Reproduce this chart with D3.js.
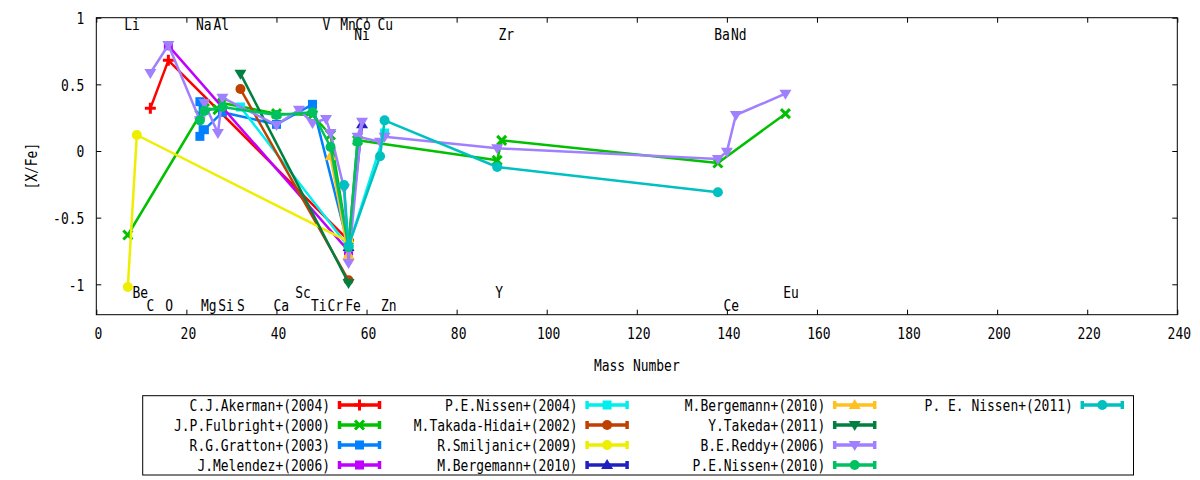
<!DOCTYPE html>
<html><head><meta charset="utf-8">
<script src="https://cdn.jsdelivr.net/npm/d3@7"></script>
<style>
body{margin:0;background:#fff;}
svg text{font-family:"DejaVu Sans Mono",monospace;font-size:16px;fill:#000;}
</style>
</head><body>
<svg id="chart" width="1200" height="480"></svg>
<script>
// ---------- data ----------
const xTicks = [0,20,40,60,80,100,120,140,160,180,200,220,240];
const yTicks = [-1,-0.5,0,0.5,1];
const xTitle = "Mass Number";
const yTitle = "[X/Fe]";

const seriesNames = ["C.J.Akerman+(2004)","J.P.Fulbright+(2000)","R.G.Gratton+(2003)","J.Melendez+(2006)",
  "P.E.Nissen+(2004)","M.Takada-Hidai+(2002)","R.Smiljanic+(2009)","M.Bergemann+(2010)",
  "M.Bergemann+(2010)","Y.Takeda+(2011)","B.E.Reddy+(2006)","P.E.Nissen+(2010)","P. E. Nissen+(2011)"];
const seriesColors = ["#ff0000","#00c000","#0080ff","#c000ff","#00eeee","#c04000","#eeee00","#2020c0",
  "#ffc020","#008040","#a080ff","#00c060","#00c0c0"];
const seriesMarkers = ["plus","cross","square","square","square","circle","circle","triUp",
  "triUp","triDown","triDown","circle","circle"];

// [mass number, [X/Fe]]
const akerman    = [[12,0.32],[16,0.68],[56,-0.67]];
const fulbright  = [[7,-0.63],[23,0.27],[24,0.32],[27,0.31],[28,0.36],[40,0.28],[48,0.27],[52,0.12],[56,-0.72],[58,0.08],[89,-0.07],[90,0.08],[138,-0.09],[153,0.28]];
const gratton    = [[23,0.37],[23,0.11],[24,0.16],[28,0.29],[40,0.20],[48,0.35],[56,-0.72]];
const melendez   = [[16,0.79],[56,-0.75]];
const nissen2004 = [[32,0.33],[56,-0.72],[64,0.135]];
const takada     = [[32,0.465],[56,-0.97]];
const smiljanic  = [[7,-1.02],[9,0.12],[56,-0.68]];
const bergemannCo= [[56,-0.72],[59,0.2]];
const bergemannCr= [[52,-0.04],[56,-0.78]];
const takeda     = [[32,0.58],[56,-0.99]];
const reddy      = [[12,0.585],[16,0.795],[23,0.23],[24,0.36],[27,0.135],[28,0.40],[40,0.195],[45,0.31],[48,0.21],[51,0.24],[52,0.135],[55,-0.28],[56,-0.84],[59,0.22],[58,0.107],[63,0.07],[64,0.107],[89,0.02],[138,-0.06],[140,-0.005],[142,0.27],[153,0.43]];
const nissen2010 = [[23,0.23],[24,0.30],[28,0.33],[40,0.27],[48,0.29],[52,0.03],[56,-0.72],[58,0.07]];
const nissen2011 = [[55,-0.255],[56,-0.71],[63,-0.04],[64,0.23],[89,-0.12],[138,-0.31]];
const seriesData = [akerman,fulbright,gratton,melendez,nissen2004,takada,smiljanic,bergemannCo,bergemannCr,takeda,reddy,nissen2010,nissen2011];

// element labels: [text, x (mass units)]; rows share one y value each
const labelsTop1 = [["Li",6.37],["Na",22.29],["Al",26.20],["V",50.40],["Mn",54.33],["Co",57.66],["Cu",62.61]];
const labelsTop2 = [["Ni",57.44],["Zr",89.48],["Ba",137.37],["Nd",141.07]];
const labelsBot1 = [["Be",8.21],["Sc",44.34],["Y",88.74],["Eu",152.69]];
const labelsBot2 = [["C",11.32],["O",15.48],["Mg",23.40],["Si",27.24],["S",31.39],["Ca",39.52],["Ti",47.82],["Cr",51.51],["Fe",55.44],["Zn",63.36],["Ce",139.43]];
const labelRowY = [0.949,0.876,-1.065,-1.159];

// ---------- layout ----------
const svg = d3.select("#chart");
const L = 96.3, R = 1177.3, T = 17.7, B = 314.7;
const x = d3.scaleLinear().domain([0,240]).range([L,R]);
const y = d3.scaleLinear().domain([-1.228,1]).range([B,T]);
const CW = 7.8; // condensed character width

function fitText(sel){
  sel.each(function(){
    const t = d3.select(this); const s = t.text();
    if(s.length) t.attr("textLength", s.length*CW).attr("lengthAdjust","spacingAndGlyphs");
  });
}

// axes
function styleAxis(g){
  g.attr("font-family",null).attr("font-size",null);
  g.select(".domain").remove();
  g.selectAll(".tick line").attr("stroke","#000").attr("stroke-width",1);
}
const gx = svg.append("g").attr("transform",`translate(0,${B})`)
  .call(d3.axisBottom(x).tickValues(xTicks).tickSize(-5).tickPadding(13).tickFormat(d3.format("d")));
styleAxis(gx); gx.selectAll("text").attr("dx",1.5).call(fitText);
const gxt = svg.append("g").attr("transform",`translate(0,${T})`)
  .call(d3.axisTop(x).tickValues(xTicks).tickSize(-5).tickFormat(""));
styleAxis(gxt);
const gy = svg.append("g").attr("transform",`translate(${L},0)`)
  .call(d3.axisLeft(y).tickValues(yTicks).tickSize(-5).tickPadding(12).tickFormat(d=>String(d)));
styleAxis(gy); gy.selectAll("text").attr("dy","0.36em").call(fitText);
const gyr = svg.append("g").attr("transform",`translate(${R},0)`)
  .call(d3.axisRight(y).tickValues(yTicks).tickSize(-5).tickFormat(""));
styleAxis(gyr);

// titles
svg.append("text").attr("x",(L+R)/2).attr("y",365).attr("text-anchor","middle")
  .attr("dominant-baseline","central").text(xTitle).call(fitText);
svg.append("text").attr("transform",`translate(31,${(T+B)/2}) rotate(-90)`).attr("text-anchor","middle")
  .attr("dominant-baseline","central").text(yTitle).call(fitText);

// element labels
const gl = svg.append("g");
[labelsTop1,labelsTop2,labelsBot1,labelsBot2].forEach((arr,ri)=>{
  gl.selectAll(null).data(arr).enter().append("text")
    .attr("x",d=>x(d[1])-0.8).attr("y",y(labelRowY[ri]))
    .attr("dominant-baseline","central").attr("text-anchor","start")
    .text(d=>d[0]).call(fitText);
});

// markers
function drawMarker(g, type, color, cx, cy){
  if(type==="plus"){
    g.append("path").attr("d",`M${cx-5.5},${cy}H${cx+5.5}M${cx},${cy-5.5}V${cy+5.5}`)
      .attr("stroke",color).attr("stroke-width",3).attr("fill","none");
  } else if(type==="cross"){
    g.append("path").attr("d",`M${cx-4.5},${cy-4.5}L${cx+4.5},${cy+4.5}M${cx-4.5},${cy+4.5}L${cx+4.5},${cy-4.5}`)
      .attr("stroke",color).attr("stroke-width",3).attr("fill","none");
  } else if(type==="square"){
    g.append("rect").attr("x",cx-4.5).attr("y",cy-4.5).attr("width",9).attr("height",9).attr("fill",color);
  } else if(type==="circle"){
    g.append("circle").attr("cx",cx).attr("cy",cy).attr("r",5).attr("fill",color);
  } else if(type==="triUp"){
    g.append("path").attr("d",`M${cx},${cy-6}L${cx+6},${cy+4}L${cx-6},${cy+4}Z`).attr("fill",color);
  } else if(type==="triDown"){
    g.append("path").attr("d",`M${cx-6},${cy-4}L${cx+6},${cy-4}L${cx},${cy+6}Z`).attr("fill",color);
  }
}

// series
const line = d3.line().x(d=>x(d[0])).y(d=>y(d[1]));
const gp = svg.append("g");
seriesData.forEach((data,i)=>{
  const g = gp.append("g");
  g.append("path").datum(data).attr("d",line).attr("fill","none")
    .attr("stroke",seriesColors[i]).attr("stroke-width",2.5).attr("stroke-linejoin","round");
  data.forEach(d=>drawMarker(g, seriesMarkers[i], seriesColors[i], x(d[0]), y(d[1])));
});

// frame
svg.append("rect").attr("x",L).attr("y",T).attr("width",R-L).attr("height",B-T)
  .attr("fill","none").attr("stroke","#000").attr("stroke-width",1);

// legend
svg.append("rect").attr("x",142.7).attr("y",395.7).attr("width",1133.5-142.7).attr("height",475-395.7)
  .attr("fill","none").attr("stroke","#000").attr("stroke-width",1);
const gLeg = svg.append("g");
seriesNames.forEach((name,i)=>{
  const col = Math.floor(i/4), row = i%4;
  const tr = 330 + col*247.6, yy = 405 + row*20;
  gLeg.append("text").attr("x",tr).attr("y",yy).attr("text-anchor","end")
    .attr("dominant-baseline","central").text(name).call(fitText);
  const s0 = tr+8, s1 = s0+43, c = seriesColors[i];
  gLeg.append("path").attr("d",`M${s0},${yy}H${s1}M${s0+1.5},${yy-4}V${yy+4}M${s1-1.5},${yy-4}V${yy+4}`)
    .attr("stroke",c).attr("stroke-width",3.5).attr("fill","none");
  drawMarker(gLeg, seriesMarkers[i], c, (s0+s1)/2, yy);
});
</script>
</body></html>
